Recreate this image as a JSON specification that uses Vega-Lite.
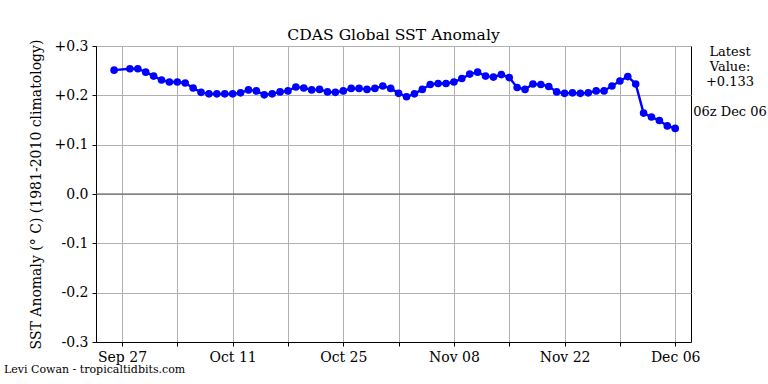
{
  "$schema": "https://vega.github.io/schema/vega-lite/v6.json",
  "width": 595,
  "height": 296,
  "autosize": "none",
  "padding": {"left": 96, "top": 46, "right": 77, "bottom": 42},
  "background": "white",
  "config": {
    "font": "DejaVu Serif",
    "view": {"stroke": "black", "strokeWidth": 1},
    "axis": {"domainColor": "black", "tickColor": "black", "labelColor": "black", "titleColor": "black", "labelFont": "DejaVu Serif", "titleFont": "DejaVu Serif", "titleFontWeight": "normal", "gridColor": "#b0b0b0", "gridWidth": 1, "gridOpacity": 1, "tickSize": 4, "labelFontSize": 14, "titleFontSize": 14}
  },
  "title": {"text": "CDAS Global SST Anomaly", "font": "DejaVu Serif", "fontSize": 15.6, "fontWeight": "normal", "color": "black", "anchor": "middle", "frame": "group", "offset": -5},
  "datasets": {
    "sst": [
      {"date": "2024-09-26", "anomaly": 0.251},
      {"date": "2024-09-28", "anomaly": 0.254},
      {"date": "2024-09-29", "anomaly": 0.254},
      {"date": "2024-09-30", "anomaly": 0.247},
      {"date": "2024-10-01", "anomaly": 0.239},
      {"date": "2024-10-02", "anomaly": 0.231},
      {"date": "2024-10-03", "anomaly": 0.227},
      {"date": "2024-10-04", "anomaly": 0.227},
      {"date": "2024-10-05", "anomaly": 0.225},
      {"date": "2024-10-06", "anomaly": 0.215},
      {"date": "2024-10-07", "anomaly": 0.206},
      {"date": "2024-10-08", "anomaly": 0.203},
      {"date": "2024-10-09", "anomaly": 0.203},
      {"date": "2024-10-10", "anomaly": 0.203},
      {"date": "2024-10-11", "anomaly": 0.203},
      {"date": "2024-10-12", "anomaly": 0.205},
      {"date": "2024-10-13", "anomaly": 0.211},
      {"date": "2024-10-14", "anomaly": 0.209},
      {"date": "2024-10-15", "anomaly": 0.201},
      {"date": "2024-10-16", "anomaly": 0.203},
      {"date": "2024-10-17", "anomaly": 0.207},
      {"date": "2024-10-18", "anomaly": 0.209},
      {"date": "2024-10-19", "anomaly": 0.217},
      {"date": "2024-10-20", "anomaly": 0.215},
      {"date": "2024-10-21", "anomaly": 0.211},
      {"date": "2024-10-22", "anomaly": 0.212},
      {"date": "2024-10-23", "anomaly": 0.207},
      {"date": "2024-10-24", "anomaly": 0.206},
      {"date": "2024-10-25", "anomaly": 0.209},
      {"date": "2024-10-26", "anomaly": 0.214},
      {"date": "2024-10-27", "anomaly": 0.214},
      {"date": "2024-10-28", "anomaly": 0.212},
      {"date": "2024-10-29", "anomaly": 0.214},
      {"date": "2024-10-30", "anomaly": 0.219},
      {"date": "2024-10-31", "anomaly": 0.214},
      {"date": "2024-11-01", "anomaly": 0.204},
      {"date": "2024-11-02", "anomaly": 0.197},
      {"date": "2024-11-03", "anomaly": 0.203},
      {"date": "2024-11-04", "anomaly": 0.212},
      {"date": "2024-11-05", "anomaly": 0.222},
      {"date": "2024-11-06", "anomaly": 0.224},
      {"date": "2024-11-07", "anomaly": 0.224},
      {"date": "2024-11-08", "anomaly": 0.227},
      {"date": "2024-11-09", "anomaly": 0.234},
      {"date": "2024-11-10", "anomaly": 0.243},
      {"date": "2024-11-11", "anomaly": 0.247},
      {"date": "2024-11-12", "anomaly": 0.239},
      {"date": "2024-11-13", "anomaly": 0.237},
      {"date": "2024-11-14", "anomaly": 0.242},
      {"date": "2024-11-15", "anomaly": 0.236},
      {"date": "2024-11-16", "anomaly": 0.216},
      {"date": "2024-11-17", "anomaly": 0.212},
      {"date": "2024-11-18", "anomaly": 0.223},
      {"date": "2024-11-19", "anomaly": 0.222},
      {"date": "2024-11-20", "anomaly": 0.218},
      {"date": "2024-11-21", "anomaly": 0.207},
      {"date": "2024-11-22", "anomaly": 0.204},
      {"date": "2024-11-23", "anomaly": 0.205},
      {"date": "2024-11-24", "anomaly": 0.204},
      {"date": "2024-11-25", "anomaly": 0.205},
      {"date": "2024-11-26", "anomaly": 0.209},
      {"date": "2024-11-27", "anomaly": 0.209},
      {"date": "2024-11-28", "anomaly": 0.219},
      {"date": "2024-11-29", "anomaly": 0.229},
      {"date": "2024-11-30", "anomaly": 0.238},
      {"date": "2024-12-01", "anomaly": 0.223},
      {"date": "2024-12-02", "anomaly": 0.164},
      {"date": "2024-12-03", "anomaly": 0.156},
      {"date": "2024-12-04", "anomaly": 0.149},
      {"date": "2024-12-05", "anomaly": 0.138},
      {"date": "2024-12-06", "anomaly": 0.133}
    ]
  },
  "data": {"name": "sst"},
  "encoding": {
    "x": {
      "field": "date",
      "type": "temporal",
      "scale": {"type": "utc", "domain": ["2024-09-23T17:00:00Z", "2024-12-08T00:00:00Z"], "nice": false},
      "axis": {
        "title": null,
        "values": ["2024-09-27", "2024-10-04", "2024-10-11", "2024-10-18", "2024-10-25", "2024-11-01", "2024-11-08", "2024-11-15", "2024-11-22", "2024-11-29", "2024-12-06"],
        "labelExpr": "indexof(['Sep 27','Oct 11','Oct 25','Nov 08','Nov 22','Dec 06'], utcFormat(datum.value, '%b %d')) >= 0 ? utcFormat(datum.value, '%b %d') : ''",
        "labelPadding": 4,
        "grid": true,
        "labelFlush": false,
        "labelOverlap": false
      }
    },
    "y": {
      "field": "anomaly",
      "type": "quantitative",
      "scale": {"domain": [-0.3, 0.3], "nice": false, "zero": false},
      "axis": {
        "title": "SST Anomaly (° C) (1981-2010 climatology)",
        "values": [-0.3, -0.2, -0.1, 0, 0.1, 0.2, 0.3],
        "labelExpr": "datum.value > 0.001 ? '+' + format(datum.value, '.1f') : (datum.value < -0.001 ? '-' + format(-datum.value, '.1f') : '0.0')",
        "labelPadding": 4,
        "titlePadding": 11,
        "grid": true
      }
    }
  },
  "layer": [
    {
      "data": {"values": [{"level": 0}]},
      "mark": {"type": "rule", "color": "#555555", "strokeWidth": 1.2},
      "encoding": {"y": {"field": "level", "type": "quantitative"}, "x": {"value": 0}, "x2": {"value": 595}}
    },
    {
      "mark": {"type": "line", "color": "#0000ff", "strokeWidth": 2.4},
      "encoding": {}
    },
    {
      "mark": {"type": "point", "filled": true, "color": "#0000ff", "opacity": 1, "size": 58, "shape": "circle"},
      "encoding": {}
    },
    {
      "transform": [{"filter": "datum.anomaly == 0.133"}],
      "mark": {"type": "text", "align": "center", "baseline": "middle", "fontSize": 13, "lineHeight": 15, "color": "black", "font": "DejaVu Serif"},
      "encoding": {
        "x": {"datum": {"year": 2024, "month": 12, "date": 12, "hours": 22, "minutes": 30, "utc": true}},
        "y": {"datum": 0.2875},
        "text": {"value": ["Latest", "Value:", "+0.133"]}
      }
    },
    {
      "transform": [{"filter": "datum.anomaly == 0.133"}],
      "mark": {"type": "text", "align": "center", "baseline": "middle", "fontSize": 13, "color": "black", "font": "DejaVu Serif"},
      "encoding": {
        "x": {"datum": {"year": 2024, "month": 12, "date": 12, "hours": 22, "minutes": 30, "utc": true}},
        "y": {"datum": 0.167},
        "text": {"value": "06z Dec 06"}
      }
    },
    {
      "transform": [{"filter": "datum.anomaly == 0.133"}],
      "mark": {"type": "text", "align": "left", "baseline": "middle", "fontSize": 11, "color": "black", "font": "DejaVu Serif"},
      "encoding": {
        "x": {"datum": {"year": 2024, "month": 9, "date": 12, "hours": 1, "minutes": 30, "utc": true}},
        "y": {"datum": -0.3575},
        "text": {"value": "Levi Cowan - tropicaltidbits.com"}
      }
    }
  ]
}
